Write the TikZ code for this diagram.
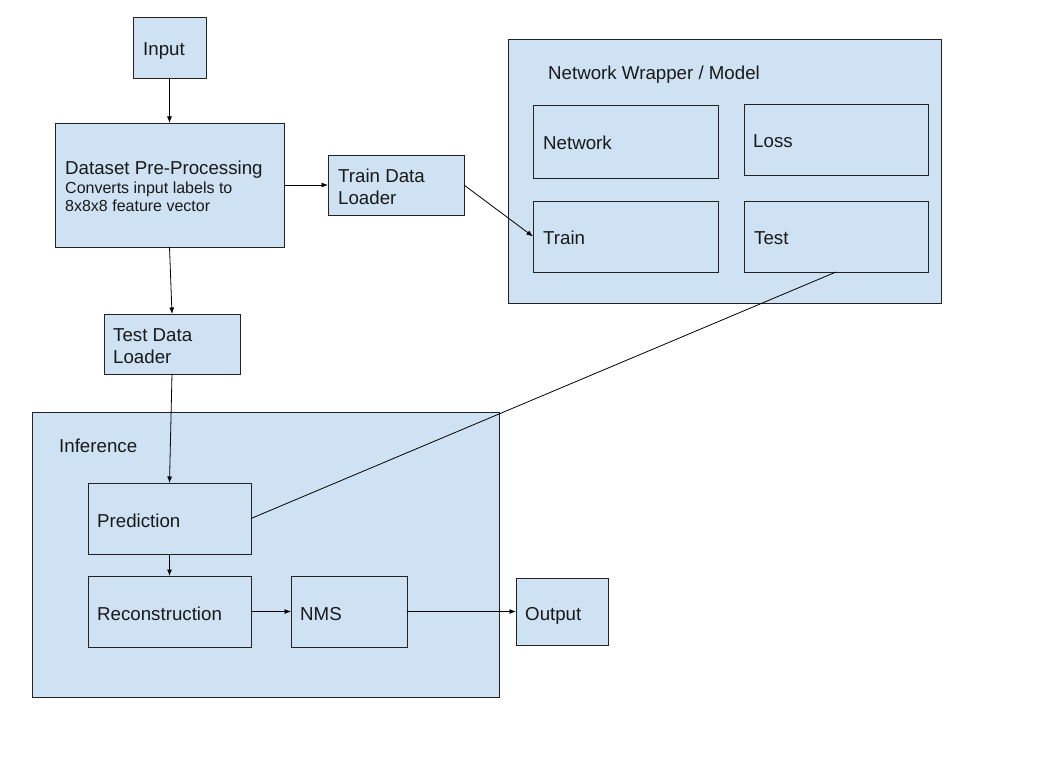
\documentclass[tikz,border=0pt]{standalone}
\usepackage{fontspec}
\setmainfont{Liberation Sans}
\usetikzlibrary{arrows.meta}
\definecolor{boxblue}{HTML}{CFE2F3}
\definecolor{edge}{HTML}{222222}
\tikzset{
  box/.style={draw=edge, fill=boxblue, line width=0.9pt, inner sep=0pt, outer sep=0pt, anchor=north west},
  txt/.style={font=\fontsize{18.7}{22}\selectfont, text=black!90, anchor=base west, inner sep=0pt, yshift=-1pt},
  small/.style={font=\fontsize{16}{18}\selectfont, text=black!90, anchor=base west, inner sep=0pt, yshift=-1pt},
  conn/.style={draw=black, line width=0.8pt},
  arr/.style={conn, -{Latex[length=6.5pt,width=5pt]}}
}
\begin{document}
\begin{tikzpicture}[x=1pt,y=-1pt]
\useasboundingbox[fill=white] (0,0) rectangle (1055,783);
% outer groups
\node[box, minimum width=433pt, minimum height=264pt] (nw) at (508,39) {};
\node[box, minimum width=467pt, minimum height=285pt] (inf) at (32,412) {};
% boxes
\node[box, minimum width=73pt, minimum height=61pt] (in) at (133,17) {};
\node[box, minimum width=229pt, minimum height=124pt] (ds) at (55,123) {};
\node[box, minimum width=136pt, minimum height=60pt] (trdl) at (328,155) {};
\node[box, minimum width=185pt, minimum height=73pt] (net) at (533,105) {};
\node[box, minimum width=184pt, minimum height=71pt] (loss) at (744,104) {};
\node[box, minimum width=185pt, minimum height=71pt] (train) at (533,201) {};
\node[box, minimum width=184pt, minimum height=71pt] (test) at (744,201) {};
\node[box, minimum width=136pt, minimum height=60pt] (tedl) at (104,314) {};
\node[box, minimum width=163pt, minimum height=71pt] (pred) at (88,483) {};
\node[box, minimum width=163pt, minimum height=71pt] (rec) at (88,576) {};
\node[box, minimum width=116pt, minimum height=71pt] (nms) at (291,576) {};
\node[box, minimum width=92pt, minimum height=67pt] (out) at (516,578) {};
% texts
\node[txt] (tin) at (143,55) {Input};
\node[txt] (tds) at (65,174) {Dataset Pre-Processing};
\node[small] (tds2) at (65,193) {Converts input labels to};
\node[small] (tds3) at (65,211) {8x8x8 feature vector};
\node[txt] (ttr1) at (338,182) {Train Data};
\node[txt] (ttr2) at (338,204) {Loader};
\node[txt] (tnw) at (548,79) {Network Wrapper / Model};
\node[txt] (tnet) at (543,149) {Network};
\node[txt] (tloss) at (753,147) {Loss};
\node[txt] (ttrain) at (543,244) {Train};
\node[txt] (ttest) at (754,244) {Test};
\node[txt] (tte1) at (113,341) {Test Data};
\node[txt] (tte2) at (113,363) {Loader};
\node[txt] (tinf) at (59,451) {Inference};
\node[txt] (tpred) at (97,526) {Prediction};
\node[txt] (trec) at (97,619) {Reconstruction};
\node[txt] (tnms) at (300,619) {NMS};
\node[txt] (tout) at (525,619) {Output};
% connectors
\draw[arr] (in.south) -- (ds.north);
\draw[arr] (ds.east) -- (trdl.west);
\draw[arr] (trdl.east) -- (train.west);
\draw[arr] (ds.south) -- (tedl.north);
\draw[arr] (tedl.south) -- (pred.north);
\draw[conn] (test.south) -- (pred.east);
\draw[arr] (pred.south) -- (rec.north);
\draw[arr] (rec.east) -- (nms.west);
\draw[arr] (nms.east) -- (out.west);
\end{tikzpicture}
\end{document}
